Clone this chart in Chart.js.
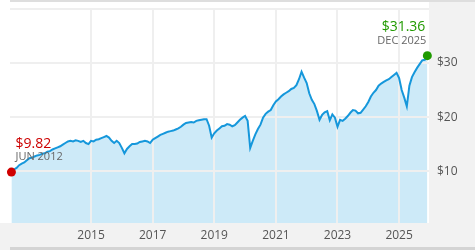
<!DOCTYPE html>
<html>
<head>
<meta charset="utf-8">
<script src="https://cdn.jsdelivr.net/npm/chart.js@4"></script>
<style>
  body { margin: 0; background: #fff; }
</style>
</head>
<body>
<canvas id="priceChart" width="475" height="250"></canvas>
<script>
// monthly closing prices, Jun 2012 .. Dec 2025
var firstMonth = [2012, 6];
var prices = [
    9.82, 10.3, 10.6, 11.1, 11.4, 11.6, 12.0, 12.4, 12.5, 12.7, 12.9, 13.0,
    13.2, 13.3, 13.6, 13.7, 14.0, 14.2, 14.4, 14.6, 14.9, 15.2, 15.5, 15.6,
    15.5, 15.7, 15.6, 15.4, 15.6, 15.2, 15.0, 15.6, 15.5, 15.8, 15.9, 16.1,
    16.3, 16.5, 16.2, 15.6, 15.2, 15.6, 15.2, 14.3, 13.3, 14.1, 14.6, 15.0,
    15.0, 15.1, 15.4, 15.5, 15.6, 15.5, 15.2, 15.8, 16.1, 16.4, 16.7, 16.9,
    17.1, 17.3, 17.4, 17.5, 17.7, 17.9, 18.2, 18.6, 18.9, 19.0, 19.1, 19.0,
    19.3, 19.4, 19.5, 19.6, 19.6, 18.4, 16.2, 17.0, 17.5, 17.9, 18.3, 18.4,
    18.7, 18.6, 18.3, 18.5, 19.0, 19.5, 19.9, 20.2, 19.3, 14.3, 15.6, 16.8,
    17.8, 18.6, 19.9, 20.6, 21.0, 21.3, 22.2, 22.9, 23.3, 23.8, 24.2, 24.5,
    24.8, 25.2, 25.4, 25.9, 27.0, 28.4, 27.3, 26.3, 24.4, 23.2, 22.4, 21.1,
    19.5, 20.4, 20.9, 21.1, 19.4, 20.5, 19.9, 18.2, 19.5, 19.3, 19.7, 20.2,
    20.8, 21.3, 21.2, 20.7, 20.8, 21.4, 22.0, 22.8, 23.8, 24.5, 25.0, 25.8,
    26.2, 26.5, 26.8, 27.0, 27.4, 27.8, 28.2, 27.2, 25.0, 23.6, 22.0, 25.8,
    27.4, 28.3, 29.1, 29.8, 30.5, 30.6, 31.36
];
var yearTicks = [2015, 2017, 2019, 2021, 2023, 2025];
var priceTicks = [10, 20, 30, 40];
var monthNames = ['JAN', 'FEB', 'MAR', 'APR', 'MAY', 'JUN', 'JUL', 'AUG', 'SEP', 'OCT', 'NOV', 'DEC'];

var points = prices.map(function(p, i) {
    var m = firstMonth[1] - 1 + i;
    return { x: firstMonth[0] + m / 12, y: p };
});
var lastIdx = prices.length - 1;

function monthLabel(i) {
    var m = firstMonth[1] - 1 + i;
    return monthNames[m % 12] + ' ' + (firstMonth[0] + Math.floor(m / 12));
}

var panels = {
    id: 'panels',
    beforeDraw: function(chart) {
        var c = chart.ctx, a = chart.chartArea;
        c.save();
        c.fillStyle = '#ffffff';
        c.fillRect(0, 0, chart.width, chart.height);
        c.fillStyle = '#f2f2f2';
        c.fillRect(a.right, 0, chart.width - a.right, chart.height);
        c.fillRect(0, a.bottom, chart.width, chart.height - a.bottom);
        c.fillStyle = '#dedede';
        c.fillRect(a.left, 0, chart.width - a.left, 2);
        c.fillStyle = '#d4d4d4';
        c.fillRect(a.left, chart.height - 3, chart.width - a.left, 3);
        c.restore();
    },
    // redraw the grid over the area fill but under the line
    beforeDatasetDraw: function(chart) {
        chart.scales.x.drawGrid(chart.chartArea);
        chart.scales.y.drawGrid(chart.chartArea);
    },
    afterDatasetsDraw: function(chart) {
        var c = chart.ctx;
        var meta = chart.getDatasetMeta(0);
        var first = meta.data[0], last = meta.data[lastIdx];
        c.save();
        c.font = '14px "Open Sans"';
        c.textBaseline = 'alphabetic';
        c.textAlign = 'left';
        c.fillStyle = '#cc0000';
        c.fillText('$' + prices[0].toFixed(2), first.x + 4, first.y - 24);
        c.font = '11px "Open Sans"';
        c.fillStyle = '#666666';
        c.fillText(monthLabel(0), first.x + 4, first.y - 12);
        c.textAlign = 'right';
        c.font = '14px "Open Sans"';
        c.fillStyle = '#219a00';
        c.fillText('$' + prices[lastIdx].toFixed(2), last.x - 2, last.y - 25);
        c.font = '11px "Open Sans"';
        c.fillStyle = '#666666';
        c.fillText(monthLabel(lastIdx), last.x - 1, last.y - 12);
        c.restore();
    }
};

var ctx = document.getElementById('priceChart').getContext('2d');
var myChart = new Chart(ctx, {
    type: 'line',
    data: {
        datasets: [{
            data: points,
            borderColor: '#1597db',
            borderWidth: 2,
            backgroundColor: '#cdeaf8',
            fill: 'start',
            tension: 0,
            clip: false,
            pointRadius: function(c) {
                return (c.dataIndex === 0 || c.dataIndex === lastIdx) ? 4.5 : 0;
            },
            pointBackgroundColor: function(c) {
                return c.dataIndex === 0 ? '#d00000' : '#1f9a00';
            },
            pointBorderWidth: 0
        }]
    },
    options: {
        responsive: false,
        animation: false,
        layout: { padding: { left: 10, top: 9, right: 0, bottom: 0 } },
        plugins: {
            legend: { display: false },
            tooltip: { enabled: false }
        },
        scales: {
            x: {
                type: 'linear',
                min: 2012.37,
                max: 2025.97,
                afterBuildTicks: function(scale) {
                    scale.ticks = yearTicks.map(function(v) { return { value: v }; });
                },
                afterFit: function(scale) {
                    scale.height = 27;
                    scale.paddingLeft = 0;
                    scale.paddingRight = 0;
                },
                grid: { color: '#efefef', lineWidth: 2, drawTicks: false },
                border: { display: false },
                ticks: {
                    padding: 5,
                    color: '#555555',
                    font: { family: 'Open Sans', size: 12 },
                    maxRotation: 0,
                    callback: function(v) { return String(v); }
                }
            },
            y: {
                position: 'right',
                min: 0.4,
                max: 40,
                afterBuildTicks: function(scale) {
                    scale.ticks = priceTicks.map(function(v) { return { value: v }; });
                },
                afterFit: function(scale) {
                    scale.width = 46;
                    scale.paddingTop = 0;
                    scale.paddingBottom = 0;
                },
                grid: { color: '#efefef', lineWidth: 2, drawTicks: false },
                border: { display: false },
                ticks: {
                    padding: 8,
                    color: '#555555',
                    font: { family: 'Open Sans', size: 12 },
                    callback: function(v) { return v === 40 ? '' : '$' + v; }
                }
            }
        }
    },
    plugins: [panels]
});
</script>
</body>
</html>
